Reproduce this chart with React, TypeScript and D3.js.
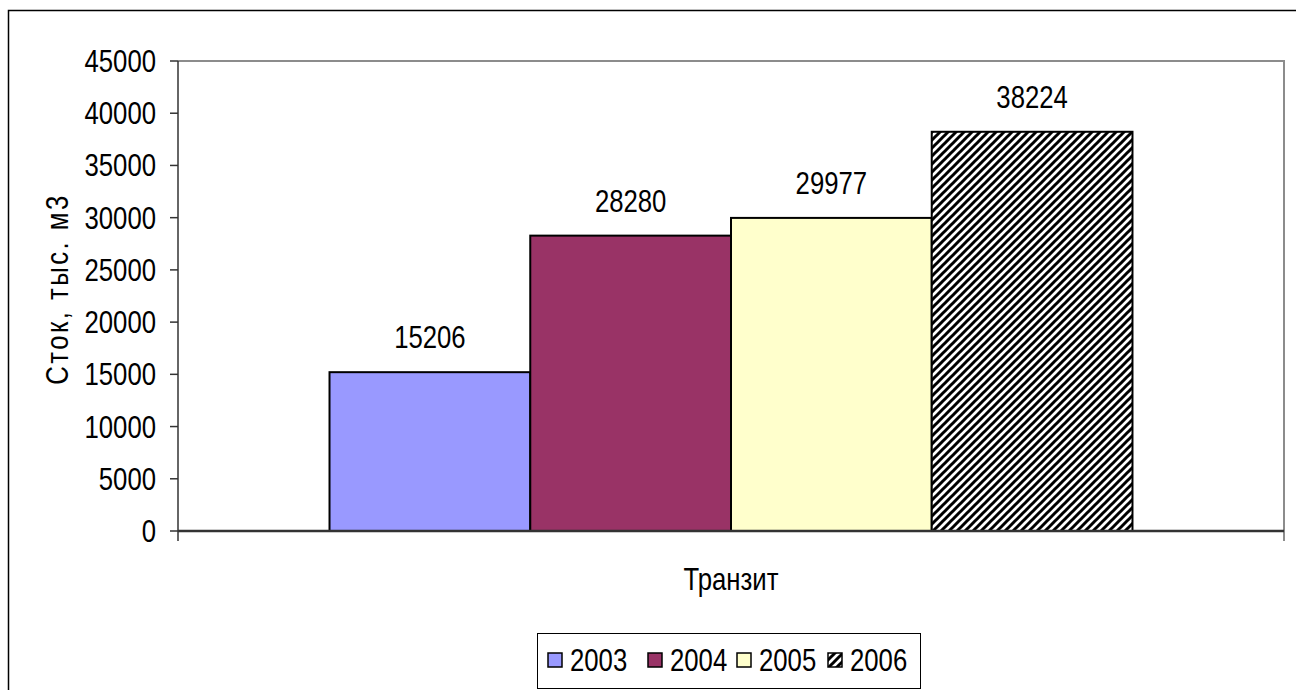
import React from "react";
import * as d3 from "d3";

const categories = ["Транзит"];
const years = ["2003", "2004", "2005", "2006"];
const values = [15206, 28280, 29977, 38224];
const yTicks = [0, 5000, 10000, 15000, 20000, 25000, 30000, 35000, 40000, 45000];
const fills = ["#9999FF", "#993366", "#FFFFCC", "url(#hatch)"];
const yTitle = "Сток, тыс. м3";

const W = 1296;
const H = 690;
const FONT = "'Liberation Sans', Arial, sans-serif";
const FS = 31;
const SX = 0.83;

const Txt = ({ x, y, anchor = "middle", children, rotate = 0, ls = 0 }: any) => (
  <text
    transform={`translate(${x},${y}) rotate(${rotate}) scale(${SX},1)`}
    textAnchor={anchor}
    fontFamily={FONT}
    fontSize={FS}
    letterSpacing={ls}
    fill="#000"
  >
    {children}
  </text>
);

export default function App() {
  const left = 178, right = 1284, top = 61, bottom = 531;
  const y = d3.scaleLinear().domain([0, 45000]).range([bottom, top]);
  const xCat = d3.scaleBand().domain(categories).range([left, right]).paddingOuter(0.1887).paddingInner(0);
  const xYear = d3.scaleBand().domain(years).range([0, xCat.bandwidth()]);
  const cx = xCat(categories[0])!;

  const legendX = [548, 648, 737, 828];

  return (
    <svg width={W} height={H} style={{ position: "absolute", left: 0, top: 0 }}>
      <defs>
        <pattern id="hatch" patternUnits="userSpaceOnUse" width={8} height={8}>
          <rect width={8} height={8} fill="#fff" />
          <path d="M-2,2 L2,-2 M0,8 L8,0 M6,10 L10,6" stroke="#000" strokeWidth={3} />
        </pattern>
      </defs>
      <rect x={0} y={0} width={W} height={H} fill="#fff" />
      <rect x={8.5} y={10.5} width={W + 20} height={H + 20} fill="none" stroke="#000" strokeWidth={1.5} />

      <path d={`M${left},${top} H${right} V${bottom + 10}`} fill="none" stroke="#8c8c8c" strokeWidth={2} />

      {values.map((v, i) => (
        <rect
          key={years[i]}
          x={cx + xYear(years[i])!}
          y={y(v)}
          width={xYear.bandwidth()}
          height={bottom - y(v)}
          fill={fills[i]}
          stroke="#000"
          strokeWidth={2}
        />
      ))}

      {values.map((v, i) => (
        <Txt key={"l" + i} x={cx + xYear(years[i])! + xYear.bandwidth() / 2} y={y(v) - 24}>
          {v}
        </Txt>
      ))}

      <line x1={left} x2={left} y1={top} y2={bottom + 10} stroke="#333" strokeWidth={1.5} />
      {yTicks.map((t) => (
        <g key={t}>
          <line x1={left - 8} x2={left} y1={y(t)} y2={y(t)} stroke="#333" strokeWidth={1.5} />
          <Txt x={156} y={y(t) + 11} anchor="end">
            {t}
          </Txt>
        </g>
      ))}
      <line x1={left} x2={right} y1={bottom} y2={bottom} stroke="#333" strokeWidth={2.5} />

      <Txt x={cx + xCat.bandwidth() / 2} y={590}>
        {categories[0]}
      </Txt>
      <Txt x={68} y={289} rotate={-90} ls={3}>
        {yTitle}
      </Txt>

      <rect x={537.5} y={633.5} width={383} height={55} fill="#fff" stroke="#000" strokeWidth={1} />
      {years.map((yr, i) => (
        <g key={"lg" + yr}>
          <rect x={legendX[i]} y={653} width={14} height={14} fill={fills[i]} stroke="#000" strokeWidth={1.5} />
          <Txt x={legendX[i] + 22} y={671} anchor="start">
            {yr}
          </Txt>
        </g>
      ))}
    </svg>
  );
}
